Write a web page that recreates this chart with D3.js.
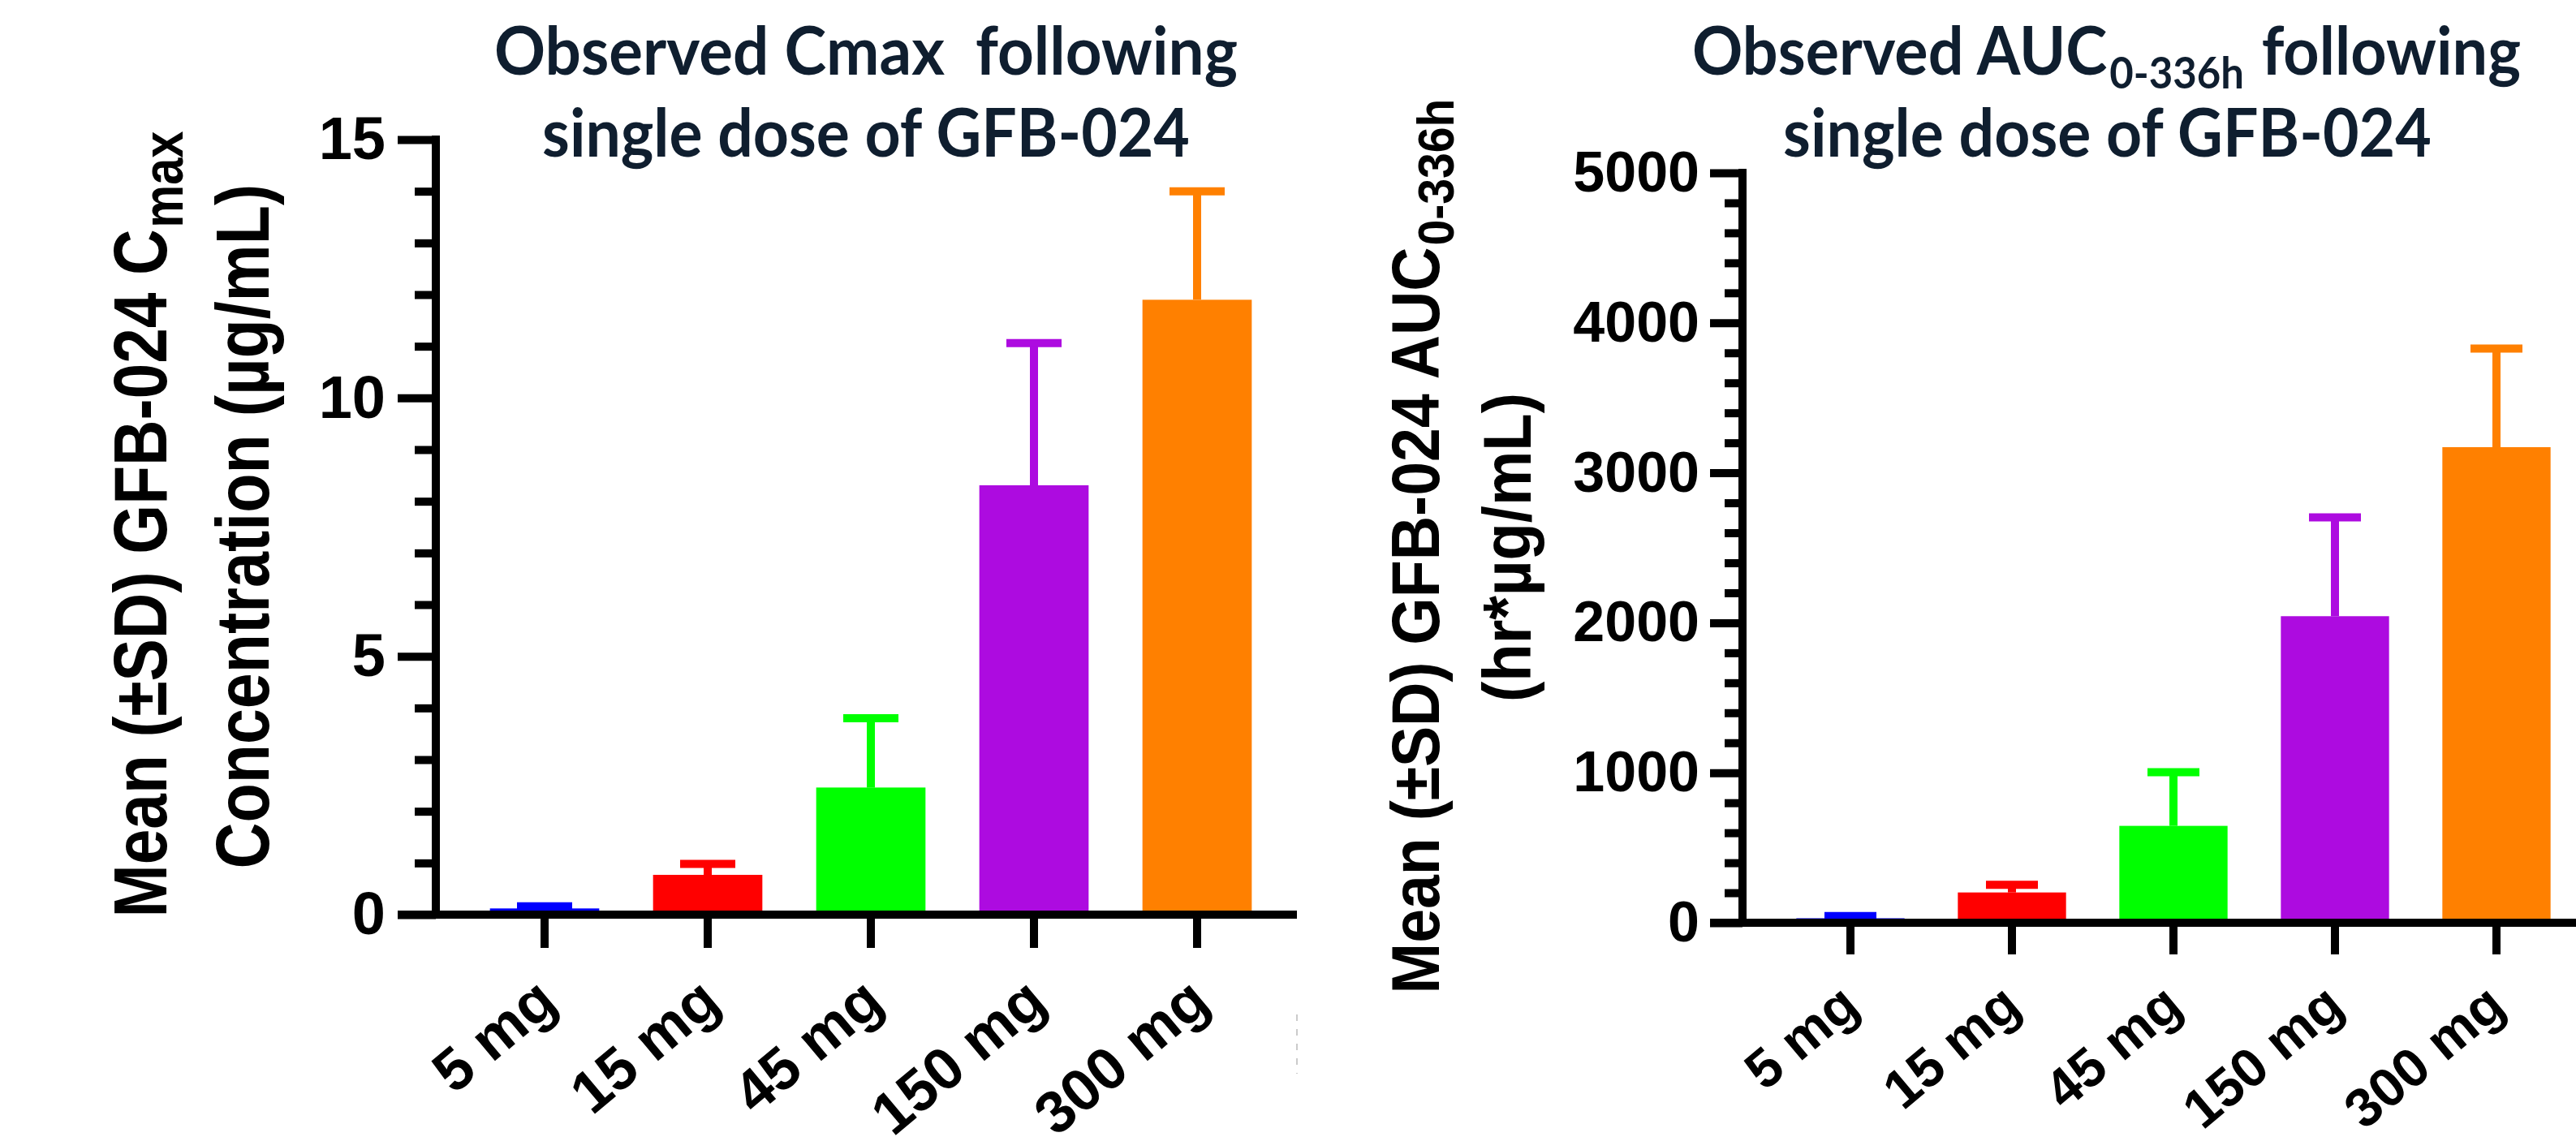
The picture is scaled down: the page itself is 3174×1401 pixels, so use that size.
<!DOCTYPE html>
<html>
<head>
<meta charset="UTF-8">
<title>GFB-024 Cmax and AUC</title>
<script src="https://cdn.jsdelivr.net/npm/d3@7"></script>
<style>
  html, body { margin: 0; padding: 0; background: #fff; overflow: hidden; }
  svg { display: block; }
  .arial { font-family: "Liberation Sans", Arial, sans-serif; font-weight: bold; }
  .ttl { font-family: Lato, "Open Sans", sans-serif; font-weight: 700; fill: #0f1e2f; white-space: pre; }
</style>
</head>
<body>
<svg id="chart" width="3174" height="1401"></svg>
<script>
// dose groups and bar colours
const categories = ["5 mg", "15 mg", "45 mg", "150 mg", "300 mg"];
const barColors = ["#0000ff", "#ff0000", "#00ff00", "#ad0be0", "#ff8000"];

// Cmax (µg/mL), mean and SD
const cmaxMean = [0.12, 0.77, 2.46, 8.31, 11.90];
const cmaxSD   = [0.04, 0.21, 1.34, 2.75, 2.10];
const cmaxMajor = [0, 5, 10, 15];
const cmaxMinor = [1, 2, 3, 4, 6, 7, 8, 9, 11, 12, 13, 14];

// AUC 0-336h (hr*µg/mL), mean and SD
const aucMean = [30, 202, 646, 2044, 3171];
const aucSD   = [15, 51, 358, 659, 658];
const aucMajor = [0, 1000, 2000, 3000, 4000, 5000];
const aucMinor = [200, 400, 600, 800, 1200, 1400, 1600, 1800, 2200, 2400, 2600, 2800,
                  3200, 3400, 3600, 3800, 4200, 4400, 4600, 4800];

const svg = d3.select("#chart");

// squeeze or stretch a text element along its own direction to a given length
function fitText(t, x, y, rot, len) {
  t.attr("transform", `translate(${x},${y}) rotate(${rot})`);
  const w = t.node().getBBox().width;
  t.attr("transform", `translate(${x},${y}) rotate(${rot}) scale(${len / w},1)`);
}

function drawPanel(p) {
  const g = svg.append("g");
  const x = d3.scaleBand().domain(categories).range(p.xRange).paddingInner(0.33).paddingOuter(0.165);
  const y = d3.scaleLinear().domain(p.yDomain).range(p.yRange);
  const rows = categories.map((c, i) => ({ c, m: p.mean[i], sd: p.sd[i], col: barColors[i] }));

  // bars
  g.selectAll("rect.bar").data(rows).join("rect")
    .attr("class", "bar")
    .attr("x", d => x(d.c))
    .attr("width", x.bandwidth())
    .attr("y", d => y(d.m))
    .attr("height", d => y(0) - y(d.m))
    .attr("fill", d => d.col);

  // upper error bars
  g.selectAll("line.stem").data(rows).join("line")
    .attr("class", "stem")
    .attr("x1", d => x(d.c) + x.bandwidth() / 2)
    .attr("x2", d => x(d.c) + x.bandwidth() / 2)
    .attr("y1", d => y(d.m))
    .attr("y2", d => y(d.m + d.sd))
    .attr("stroke", d => d.col).attr("stroke-width", p.lw);
  g.selectAll("line.cap").data(rows).join("line")
    .attr("class", "cap")
    .attr("x1", d => x(d.c) + x.bandwidth() / 2 - p.cap / 2)
    .attr("x2", d => x(d.c) + x.bandwidth() / 2 + p.cap / 2)
    .attr("y1", d => y(d.m + d.sd))
    .attr("y2", d => y(d.m + d.sd))
    .attr("stroke", d => d.col).attr("stroke-width", p.lw);

  // y axis: minor ticks, then major ticks with labels
  g.append("g").attr("transform", `translate(${p.yAxisX},0)`)
    .call(d3.axisLeft(y).tickValues(p.minor).tickSize(p.minorLen).tickFormat(""))
    .call(a => a.select(".domain").remove())
    .call(a => a.selectAll("line").attr("stroke", "#000").attr("stroke-width", p.lw));
  const ya = g.append("g").attr("transform", `translate(${p.yAxisX},0)`)
    .call(d3.axisLeft(y).tickValues(p.major).tickFormat(d3.format("d"))
      .tickSize(p.majorLen).tickSizeOuter(0).tickPadding(p.labelPad));
  ya.select(".domain").attr("stroke", "#000").attr("stroke-width", p.lw)
    .attr("d", `M0,${y(0)}V${y(p.yDomain[1]) - p.lw / 2}`);
  ya.selectAll("line").attr("stroke", "#000").attr("stroke-width", p.lw);
  ya.selectAll("text").attr("class", "arial").attr("font-size", p.yFont).attr("fill", "#000");

  // x axis
  g.append("path").attr("d", `M${p.yAxisX - p.majorLen},${y(0)}H${p.xAxisEnd}`)
    .attr("stroke", "#000").attr("stroke-width", p.lw);
  const xa = g.append("g").attr("transform", `translate(0,${y(0)})`)
    .call(d3.axisBottom(x).tickSize(p.xTickLen).tickSizeOuter(0));
  xa.select(".domain").remove();
  xa.selectAll("line").attr("stroke", "#000").attr("stroke-width", p.lw);
  xa.selectAll("text")
    .attr("class", "arial").attr("font-size", p.xFont).attr("fill", "#000")
    .attr("text-anchor", "end").attr("x", 0).attr("y", 0).attr("dy", 0)
    .attr("transform", `translate(${p.xLabDx},${p.xLabDy}) rotate(-40)`);

  // titles
  p.title.forEach((ln, i) => {
    const t = g.append("text").attr("class", "ttl").attr("font-size", 82).attr("text-anchor", "middle");
    ln.parts.forEach(pt => {
      const s = t.append("tspan").text(pt.t);
      if (pt.sub) s.attr("font-size", 54).attr("dy", 17).attr("dx", 3);
      if (pt.back) s.attr("dy", -17).attr("dx", 3);
    });
    fitText(t, ln.x, ln.y, 0, ln.w);
  });

  // y axis title (two rotated lines)
  p.yTitle.forEach(ln => {
    const t = g.append("text").attr("class", "arial").attr("font-size", ln.fs)
      .attr("text-anchor", "middle").attr("fill", "#000");
    ln.parts.forEach(pt => {
      const s = t.append("tspan").text(pt.t);
      if (pt.sub) s.attr("font-size", ln.fs * 0.76).attr("dy", ln.fs * 0.22).attr("dx", 2);
    });
    fitText(t, ln.x, ln.y, -90, ln.len);
  });
}

drawPanel({
  mean: cmaxMean, sd: cmaxSD, yDomain: [0, 15], major: cmaxMajor, minor: cmaxMinor,
  xRange: [570.5, 1575.5], yRange: [1127, 172], yAxisX: 537, xAxisEnd: 1598,
  lw: 10, cap: 68, majorLen: 47, minorLen: 26, labelPad: 15, yFont: 74,
  xTickLen: 41, xFont: 73, xLabDx: 19, xLabDy: 113,
  title: [
    { parts: [{ t: "Observed Cmax  following" }], x: 1067, y: 92, w: 916 },
    { parts: [{ t: "single dose of GFB-024" }], x: 1067, y: 193, w: 798 }
  ],
  yTitle: [
    { parts: [{ t: "Mean (±SD) GFB-024 C" }, { t: "max", sub: true }], fs: 93, x: 205, y: 646, len: 969 },
    { parts: [{ t: "Concentration (µg/mL)" }], fs: 93, x: 331, y: 648.6, len: 844 }
  ]
});

drawPanel({
  mean: aucMean, sd: aucSD, yDomain: [0, 5000], major: aucMajor, minor: aucMinor,
  xRange: [2180.5, 3175.5], yRange: [1137, 213], yAxisX: 2147, xAxisEnd: 3180,
  lw: 10, cap: 64, majorLen: 40, minorLen: 22, labelPad: 13, yFont: 70,
  xTickLen: 39, xFont: 67, xLabDx: 14, xLabDy: 108,
  title: [
    { parts: [{ t: "Observed AUC" }, { t: "0-336h", sub: true }, { t: " following", back: true }], x: 2595.5, y: 92, w: 1021 },
    { parts: [{ t: "single dose of GFB-024" }], x: 2596.5, y: 193, w: 799 }
  ],
  yTitle: [
    { parts: [{ t: "Mean (±SD) GFB-024 AUC" }, { t: "0-336h", sub: true }], fs: 84, x: 1773, y: 673, len: 1103 },
    { parts: [{ t: "(hr*µg/mL)" }], fs: 84, x: 1886, y: 674.5, len: 381 }
  ]
});

// faint dashed mark to the right of the first panel's axis
svg.append("line").attr("x1", 1598).attr("x2", 1598).attr("y1", 1250).attr("y2", 1323)
  .attr("stroke", "#bbb").attr("stroke-width", 1.5).attr("stroke-dasharray", "8,10");
</script>
</body>
</html>
